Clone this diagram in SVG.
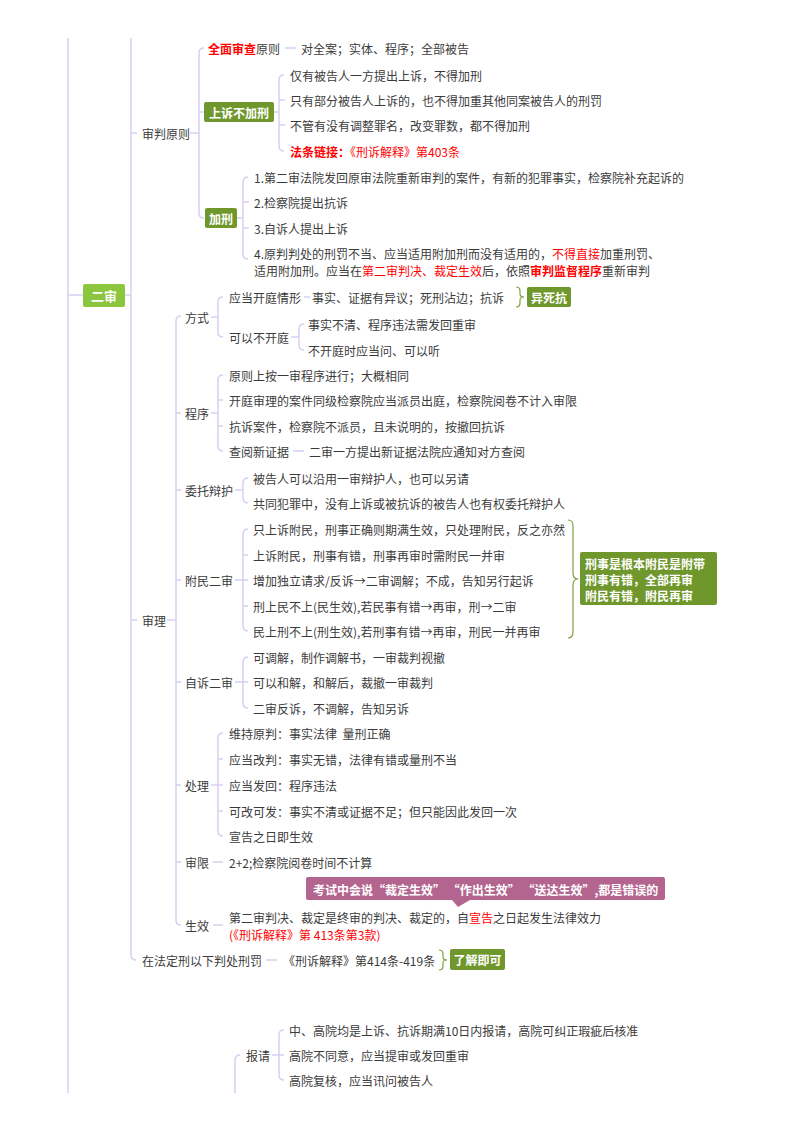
<svg xmlns="http://www.w3.org/2000/svg" width="800" height="1132" viewBox="0 0 800 1132">
<style>
.t{font-family:"Noto Sans CJK SC","Noto Sans",sans-serif;font-size:12px;fill:#3b3b3b;dominant-baseline:central}
.r{fill:#f00}
.b{font-weight:bold}
.w{fill:#fff;font-weight:bold}
.c{text-anchor:middle}
.ln{fill:none;stroke:#d8d0f2;stroke-width:1.5}
.br{fill:none;stroke:#7f9f3c;stroke-width:1.2}
.g1{fill:#8cc63f}
.g2{fill:#6f972c}
</style>
<rect width="800" height="1132" fill="#fff"/>
<g id="connectors">
<path class="ln" d="M68 38V1093M68 295H83M125 295H131M131 38V955Q131 960 136 960M131 133H137M131 620H137"/>
<path class="ln" d="M190 133H199M204 48Q199 48 199 53V213Q199 218 204 218M199 112H204M285 48H296"/>
<path class="ln" d="M274 112H279M284 75Q279 75 279 80V146Q279 151 284 151M279 100H285M279 125H285"/>
<path class="ln" d="M237 218H243M248 177Q243 177 243 182V254Q243 259 248 259M243 202H249M243 228H249"/>
<path class="ln" d="M167 620H176M181 316Q176 316 176 321V920Q176 925 181 925M176 413H181M176 490H181M176 580H181M176 682H181M176 785H181M176 862H181"/>
<path class="ln" d="M211 317H218M223 297Q218 297 218 302V332Q218 337 223 337M304 297H310M291 337H299M304 324Q299 324 299 329V345Q299 350 304 350"/>
<path class="ln" d="M211 413H218M223 375Q218 375 218 380V446Q218 451 223 451M218 400H223M218 426H223M293 451H304"/>
<path class="ln" d="M235 490H243M248 478Q243 478 243 483V498Q243 503 248 503"/>
<path class="ln" d="M235 580H243M248 529Q243 529 243 534V626Q243 631 248 631M243 555H248M243 580H248M243 606H248"/>
<path class="ln" d="M235 682H243M248 657Q243 657 243 662V703Q243 708 248 708M243 682H248"/>
<path class="ln" d="M211 785H218M223 733Q218 733 218 738V831Q218 836 223 836M218 759H223M218 785H223M218 811H223"/>
<path class="ln" d="M213 862H223M213 925H223M266 960H277"/>
<path class="ln" d="M235 1093V1060Q235 1055 240 1055M272 1055H279M284 1030Q279 1030 279 1035V1075Q279 1080 284 1080M279 1055H284"/>
<path class="br" d="M516 287Q520 287 520 291V294Q520 297 524 297Q520 297 520 300V303Q520 307 516 307"/>
<path class="br" d="M439 950Q443 950 443 954V957Q443 960 447 960Q443 960 443 963V966Q443 970 439 970"/>
<path class="br" d="M568 520Q573 520 573 526V573Q573 579 578 579Q573 579 573 585V632Q573 638 568 638"/>
</g>
<g id="n-ershen"><rect class="g1" x="83" y="284" width="42" height="23" rx="2"/><text class="t w c" x="104" y="295.5" style="font-size:13px">二审</text></g>
<g id="n-shenpan"><text class="t" x="142" y="133">审判原则</text></g>
<g id="n-quanmian"><text class="t" x="208" y="48"><tspan class="r b">全面审查</tspan>原则</text><text class="t" x="301" y="48">对全案；实体、程序；全部被告</text></g>
<g id="n-shangsu"><rect class="g2" x="204" y="102" width="70" height="20" rx="2"/><text class="t w c" x="239" y="112">上诉不加刑</text>
<text class="t" x="290" y="75">仅有被告人一方提出上诉，不得加刑</text>
<text class="t" x="290" y="100">只有部分被告人上诉的，也不得加重其他同案被告人的刑罚</text>
<text class="t" x="290" y="125">不管有没有调整罪名，改变罪数，都不得加刑</text>
<text class="t r" x="290" y="151"><tspan class="b">法条链接：</tspan>《刑诉解释》第403条</text></g>
<g id="n-jiaxing"><rect class="g2" x="205" y="208" width="32" height="20" rx="2"/><text class="t w c" x="221" y="218">加刑</text>
<text class="t" x="254" y="177">1.第二审法院发回原审法院重新审判的案件，有新的犯罪事实，检察院补充起诉的</text>
<text class="t" x="254" y="202">2.检察院提出抗诉</text>
<text class="t" x="254" y="228">3.自诉人提出上诉</text>
<text class="t" x="254" y="253">4.原判判处的刑罚不当、应当适用附加刑而没有适用的，<tspan class="r">不得直接</tspan>加重刑罚、</text>
<text class="t" x="254" y="270">适用附加刑。应当在<tspan class="r">第二审判决、裁定生效</tspan>后，依照<tspan class="r b">审判监督程序</tspan>重新审判</text></g>
<g id="n-shenli"><text class="t" x="142" y="620">审理</text></g>
<g id="n-fangshi"><text class="t" x="185" y="317">方式</text>
<text class="t" x="229" y="297">应当开庭情形</text><text class="t" x="312" y="297">事实、证据有异议；死刑沾边；抗诉</text>
<rect class="g2" x="527" y="287" width="44" height="20" rx="2"/><text class="t w c" x="549" y="297">异死抗</text>
<text class="t" x="229" y="337">可以不开庭</text>
<text class="t" x="308" y="324">事实不清、程序违法需发回重审</text>
<text class="t" x="308" y="350">不开庭时应当问、可以听</text></g>
<g id="n-chengxu"><text class="t" x="185" y="413">程序</text>
<text class="t" x="229" y="375">原则上按一审程序进行；大概相同</text>
<text class="t" x="229" y="400">开庭审理的案件同级检察院应当派员出庭，检察院阅卷不计入审限</text>
<text class="t" x="229" y="426">抗诉案件，检察院不派员，且未说明的，按撤回抗诉</text>
<text class="t" x="229" y="451">查阅新证据</text><text class="t" x="309" y="451">二审一方提出新证据法院应通知对方查阅</text></g>
<g id="n-weituo"><text class="t" x="185" y="490">委托辩护</text>
<text class="t" x="253" y="478">被告人可以沿用一审辩护人，也可以另请</text>
<text class="t" x="253" y="503">共同犯罪中，没有上诉或被抗诉的被告人也有权委托辩护人</text></g>
<g id="n-fumin"><text class="t" x="185" y="580">附民二审</text>
<text class="t" x="253" y="529">只上诉附民，刑事正确则期满生效，只处理附民，反之亦然</text>
<text class="t" x="253" y="555">上诉附民，刑事有错，刑事再审时需附民一并审</text>
<text class="t" x="253" y="580">增加独立请求/反诉→二审调解；不成，告知另行起诉</text>
<text class="t" x="253" y="606">刑上民不上(民生效),若民事有错→再审，刑→二审</text>
<text class="t" x="253" y="631">民上刑不上(刑生效),若刑事有错→再审，刑民一并再审</text>
<rect class="g2" x="580" y="552" width="137" height="53" rx="2"/>
<text class="t w" x="585" y="563">刑事是根本附民是附带</text>
<text class="t w" x="585" y="579">刑事有错，全部再审</text>
<text class="t w" x="585" y="595">附民有错，附民再审</text></g>
<g id="n-zisu"><text class="t" x="185" y="682">自诉二审</text>
<text class="t" x="253" y="657">可调解，制作调解书，一审裁判视撤</text>
<text class="t" x="253" y="682">可以和解，和解后，裁撤一审裁判</text>
<text class="t" x="253" y="708">二审反诉，不调解，告知另诉</text></g>
<g id="n-chuli"><text class="t" x="185" y="785">处理</text>
<text class="t" x="229" y="733">维持原判：事实法律&#160;&#160;量刑正确</text>
<text class="t" x="229" y="759">应当改判：事实无错，法律有错或量刑不当</text>
<text class="t" x="229" y="785">应当发回：程序违法</text>
<text class="t" x="229" y="811">可改可发：事实不清或证据不足；但只能因此发回一次</text>
<text class="t" x="229" y="836">宣告之日即生效</text></g>
<g id="n-shenxian"><text class="t" x="185" y="862">审限</text><text class="t" x="229" y="862">2+2;检察院阅卷时间不计算</text></g>
<g id="n-callout"><path d="M308 877H663Q665 877 665 879V898Q665 900 663 900H470L458 907L452 900H308Q306 900 306 898V879Q306 877 308 877Z" fill="#b4658f"/>
<text class="t w" x="313" y="889">考试中会说“裁定生效” “作出生效” “送达生效”,都是错误的</text></g>
<g id="n-shengxiao"><text class="t" x="185" y="925">生效</text>
<text class="t" x="229" y="917">第二审判决、裁定是终审的判决、裁定的，自<tspan class="r">宣告</tspan>之日起发生法律效力</text>
<text class="t r" x="229" y="934">(《刑诉解释》第 413条第3款)</text></g>
<g id="n-fading"><text class="t" x="142" y="960">在法定刑以下判处刑罚</text><text class="t" x="283" y="960">《刑诉解释》第414条-419条</text>
<rect class="g2" x="450" y="949" width="55" height="21" rx="2"/><text class="t w c" x="477.5" y="959.5">了解即可</text></g>
<g id="n-baoqing"><text class="t" x="246" y="1055">报请</text>
<text class="t" x="289" y="1030">中、高院均是上诉、抗诉期满10日内报请，高院可纠正瑕疵后核准</text>
<text class="t" x="289" y="1055">高院不同意，应当提审或发回重审</text>
<text class="t" x="289" y="1080">高院复核，应当讯问被告人</text></g>
</svg>
